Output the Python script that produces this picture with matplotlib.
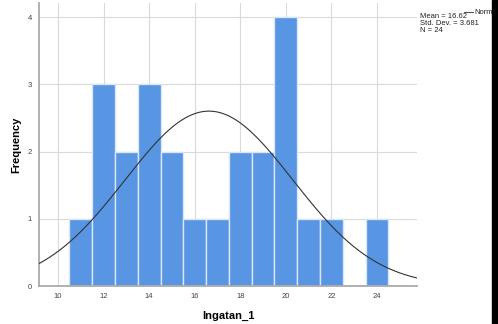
import numpy as np
import matplotlib
matplotlib.use("Agg")
import matplotlib.pyplot as plt
from matplotlib.patches import Rectangle

# skor ingatan_1 (24 responden)
ingatan_1 = [11, 12, 12, 12, 13, 13, 14, 14, 14, 15, 15, 16,
             17, 18, 18, 19, 19, 20, 20, 20, 20, 21, 22, 24]
bin_edges = [10.5, 11.5, 12.5, 13.5, 14.5, 15.5, 16.5, 17.5, 18.5,
             19.5, 20.5, 21.5, 22.5, 23.5, 24.5]
x_ticks = [10, 12, 14, 16, 18, 20, 22, 24]
y_ticks = [0, 1, 2, 3, 4]

mean = np.mean(ingatan_1)
sd = np.std(ingatan_1, ddof=1)
n = len(ingatan_1)

plt.rcParams['font.family'] = ['Liberation Sans', 'DejaVu Sans']

fig = plt.figure(figsize=(4.98, 3.24), dpi=100)
ax = fig.add_axes([0.0783, 0.117, 0.759, 0.874])

ax.hist(ingatan_1, bins=bin_edges, color='#5895E3', edgecolor='#D8E6F8',
        linewidth=1.0, zorder=2)

xs = np.linspace(9.17, 25.75, 300)
ys = n * 1.0 / (sd * np.sqrt(2 * np.pi)) * np.exp(-0.5 * ((xs - mean) / sd) ** 2)
ax.plot(xs, ys, color='#333333', linewidth=0.8, zorder=3)

ax.set_xlim(9.17, 25.75)
ax.set_ylim(0, 4.21)
ax.set_xticks(x_ticks)
ax.set_yticks(y_ticks)
ax.tick_params(length=0, labelsize=5.5, colors='#444444', pad=5)
ax.grid(True, color='#DADADA', linewidth=0.8, zorder=0)
ax.set_axisbelow(True)
for s in ['top', 'right']:
    ax.spines[s].set_visible(False)
for s in ['left', 'bottom']:
    ax.spines[s].set_color('#AAAAAA')
    ax.spines[s].set_linewidth(1.3)

ax.set_xlabel('Ingatan_1', fontsize=8, fontweight='bold', labelpad=8)
ax.set_ylabel('Frequency', fontsize=8, fontweight='bold', labelpad=5)

# keterangan di kanan atas
fig.text(420 / 498, 1 - 13 / 324,
         'Mean = %.2f\nStd. Dev. = %.3f\nN = %d' % (mean, sd, n),
         fontsize=5.5, va='top', ha='left', linespacing=0.95, color='#222222')
fig.add_artist(plt.Line2D([464 / 498, 473 / 498], [1 - 12 / 324, 1 - 12 / 324],
                          color='#555555', linewidth=0.8))
fig.text(474 / 498, 1 - 12 / 324, 'Norm', fontsize=5.5, va='center',
         ha='left', color='#222222')
fig.add_artist(Rectangle((492 / 498, 0), 6 / 498, 1, transform=fig.transFigure,
                         color='black', zorder=10))

fig.savefig('out.png', dpi=100)
